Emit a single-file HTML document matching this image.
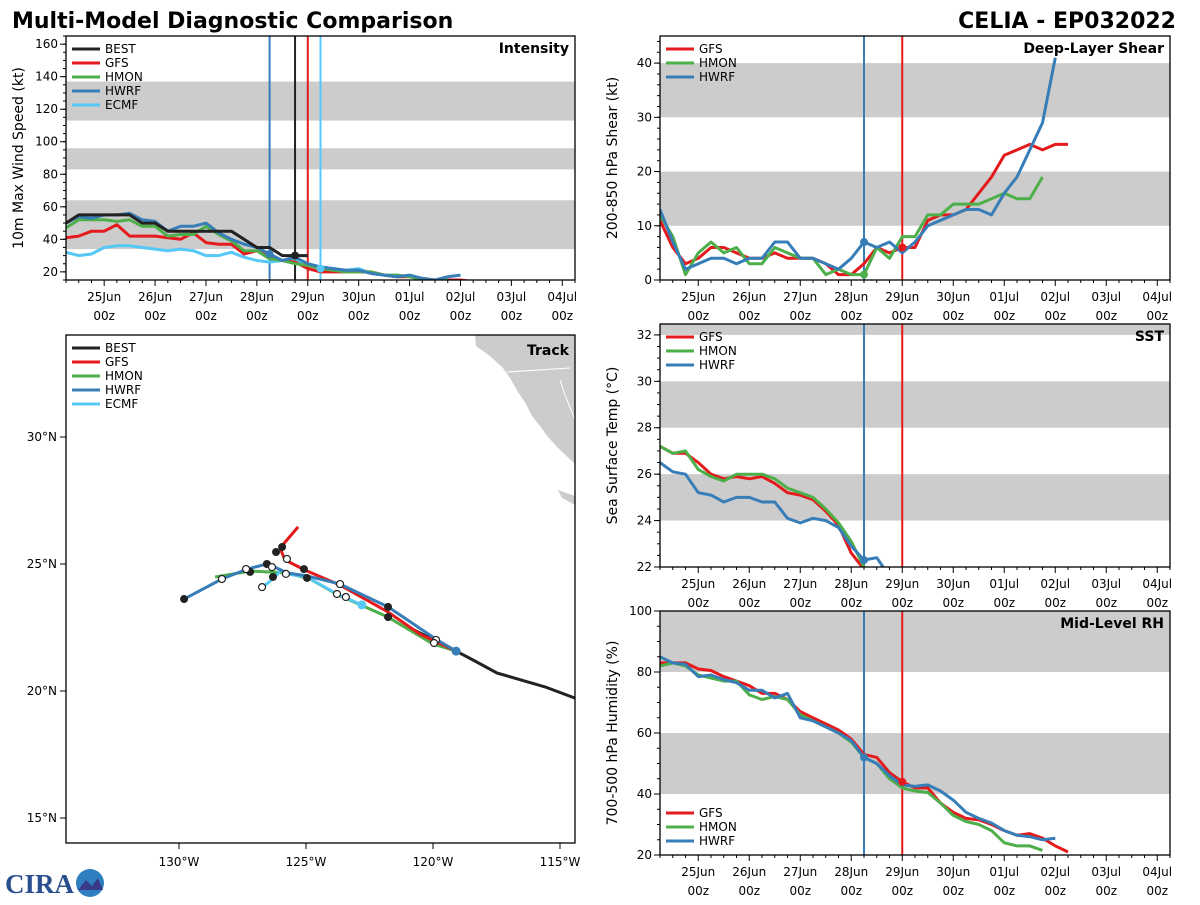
<!DOCTYPE html>
<html><head><meta charset="utf-8"><style>
body{margin:0;background:#fff;}
svg text{font-family:"DejaVu Sans","Liberation Sans",sans-serif;}
</style></head><body>
<svg id="root" width="1200" height="900" viewBox="0 0 1200 900" xmlns="http://www.w3.org/2000/svg">
<text x="12" y="28" font-size="22" font-weight="bold">Multi-Model Diagnostic Comparison</text>
<text x="1176" y="28" font-size="22" font-weight="bold" text-anchor="end">CELIA - EP032022</text>
<g>
<text x="5" y="893" font-size="27" font-weight="bold" fill="#2a4f8f" style="font-family:'Liberation Serif',serif">CIRA</text>
<circle cx="90" cy="883" r="14" fill="#2f7fc0"/>
<path d="M78 890 L86 880 L92 886 L98 878 L103 890 Z" fill="#3a3a8a"/>
</g>
<g id="plots"></g>
</svg>
<script>
// ---------- DATA ----------
const dayLabels=["25Jun","26Jun","27Jun","28Jun","29Jun","30Jun","01Jul","02Jul","03Jul","04Jul"];
const t0=-0.75; const dt=0.25;
const intBEST=[50,55,55,55,55,55,50,50,45,45,45,45,45,45,40,35,35,30,30,30];
const intGFS=[41,42,45,45,49,42,42,42,41,40,44,38,37,37,31,33,29,27,26,22,20,20,20,20,20,18,17,17,16,15,15,15,14];
const intHMON=[47,52,52,52,51,52,48,48,42,43,43,48,43,39,33,33,28,27,25,24,22,21,20,20,20,18,18,17,15,15,15];
const intHWRF=[50,54,53,55,55,56,52,51,45,48,48,50,44,40,37,35,31,27,29,25,23,22,21,21,19,18,17,18,16,15,17,18];
const intECMF=[32,30,31,35,36,36,35,34,33,34,33,30,30,32,29,27,26,27,27,25,23,22,21,22,19,18,18,17,15,15];
const intTicks=[20,40,60,80,100,120,140,160];
const shrGFS=[11,6,3,4,6,6,5,4,4,5,4,4,4,3,1,1,3,6,5,6,6,11,12,12,13,16,19,23,24,25,24,25,25];
const shrHMON=[12,8,1,5,7,5,6,3,3,6,5,4,4,1,2,1,1,6,4,8,8,12,12,14,14,14,15,16,15,15,19];
const shrHWRF=[13,7,2,3,4,4,3,4,4,7,7,4,4,3,2,4,7,6,7,5,7,10,11,12,13,13,12,16,19,24,29,41];
const shrTicks=[0,10,20,30,40];
const sstGFS=[27.2,26.9,26.9,26.5,26.0,25.8,25.9,25.8,25.9,25.6,25.2,25.1,24.9,24.4,23.8,22.6,21.9];
const sstHMON=[27.2,26.9,27.0,26.2,25.9,25.7,26.0,26.0,26.0,25.8,25.4,25.2,25.0,24.5,23.9,23.1,22.0];
const sstHWRF=[26.5,26.1,26.0,25.2,25.1,24.8,25.0,25.0,24.8,24.8,24.1,23.9,24.1,24.0,23.7,22.9,22.3,22.4,21.6];
const sstTicks=[22,24,26,28,30,32];
const rhGFS=[83,83,83,81,80.5,78.5,77,75.5,73,73,71,67,65,63,61,58,53,52,47,44,42,42,37,34,32,31.5,30,28,26.5,27,25.5,23,21];
const rhHMON=[82,83,82,79,78,77,77,72.5,71,72,71,66,64,62,60,57,52,50,45,42,41,40.5,37,33,31,30,28,24,23,23,21.5];
const rhHWRF=[85,83,82.5,78.5,79,77.5,76.5,74,74,71.5,73,65,64,62,60,57.5,52,50,46,43,42.5,43,41,38,34,32,30.5,28,26.5,26,25,25.5];
const rhTicks=[20,40,60,80,100];
const bestLon=[-114.41,-115.59,-117.48,-118.35,-119.09,-120.12,-120.91];
const bestLat=[19.72,20.16,20.71,21.18,21.57,22.09,22.48];
const gfsLon=[-119.09,-120.51,-121.77,-123.66,-125.04,-125.83,-126.02,-125.31];
const gfsLat=[21.57,22.24,23.11,24.17,24.76,25.16,25.63,26.46];
const hwrfLon=[-119.09,-119.84,-121.77,-122.76,-123.66,-124.96,-125.75,-126.14,-126.54,-127.32,-128.31,-129.80];
const hwrfLat=[21.57,22.01,23.31,23.78,24.21,24.53,24.65,24.84,25.0,24.80,24.41,23.62];
const hmonLon=[-119.09,-120.0,-121.77,-122.76,-123.74,-124.84,-125.75,-127.20,-128.58];
const hmonLat=[21.57,21.85,22.91,23.35,23.78,24.41,24.65,24.72,24.49];
const ecmfLon=[-122.80,-123.78,-124.96,-125.75,-126.02,-126.14,-126.50,-126.73];
const ecmfLat=[23.39,23.82,24.49,24.61,24.76,24.57,24.25,24.09];
const fillLon=[-129.80,-127.20,-126.54,-126.30,-126.18,-125.94,-125.08,-124.96,-121.77,-121.77];
const fillLat=[23.62,24.69,25.0,24.49,25.47,25.67,24.80,24.45,23.31,22.91];
const openLon=[-128.31,-127.36,-126.34,-125.79,-125.75,-126.73,-123.66,-123.78,-123.43,-119.88,-119.96];
const openLat=[24.41,24.80,24.88,24.61,25.20,24.09,24.21,23.82,23.70,22.01,21.89];
const lonTicks=[-130,-125,-120,-115];
const latTicks=[15,20,25,30];

// ---------- DRAWING ----------
const NS="http://www.w3.org/2000/svg";
const G=document.getElementById('plots');
function el(tag,attrs,parent,txt){const e=document.createElementNS(NS,tag);for(const k in attrs)e.setAttribute(k,attrs[k]);if(txt!==undefined)e.textContent=txt;(parent||G).appendChild(e);return e;}
const C={BEST:'#222222',GFS:'#e41a1c',HMON:'#4daf4a',HWRF:'#377eb8',ECMF:'#56c8f5'};

function panel(o){
  const g=el('g',{});
  
  
  const X=d=>o.x0+(d-(-0.75))/10*(o.x1-o.x0);
  const Y=v=>o.y1-(v-o.vmin)/(o.vmax-o.vmin)*(o.y1-o.y0);
  const cy=v=>Math.max(o.y0,Math.min(o.y1,Y(v)));
  const clip='clip-'+o.name;
  const cp=el('clipPath',{id:clip},g);el('rect',{x:o.x0,y:o.y0,width:o.x1-o.x0,height:o.y1-o.y0},cp);
  o.bands.forEach(b=>{const r=el('rect',{x:o.x0,y:cy(b[1]),width:o.x1-o.x0,height:cy(b[0])-cy(b[1]),fill:'#cccccc'},g);
    });
  o.vlines.forEach(v=>{const l=el('line',{x1:X(v[0]),x2:X(v[0]),y1:o.y0,y2:o.y1,stroke:C[v[1]],'stroke-width':2},g);
    });
  const sg=el('g',{'clip-path':'url(#'+clip+')'},g);
  o.series.forEach(s=>{const pts=s[1].map((v,i)=>X(t0+i*dt).toFixed(1)+','+Y(v).toFixed(1)).join(' ');
    const p=el('polyline',{points:pts,fill:'none',stroke:C[s[0]],'stroke-width':3,'stroke-linejoin':'round'},sg);
    });
  (o.dots||[]).forEach(d=>{const c=el('circle',{cx:X(d[0]),cy:Y(d[1]),r:4,fill:C[d[2]]},g);
    });
  el('rect',{x:o.x0,y:o.y0,width:o.x1-o.x0,height:o.y1-o.y0,fill:'none',stroke:'#000','stroke-width':1.3},g);
  for(let d=-0.75;d<=9.25;d+=0.25){const x=X(d);const major=Math.abs(d-Math.round(d))<1e-6;
    el('line',{x1:x,x2:x,y1:o.y1,y2:o.y1+(major?6:3),stroke:'#000','stroke-width':1},g);}
  dayLabels.forEach((lb,i)=>{const t=el('text',{x:X(i),y:o.y1+21,'font-size':12,'text-anchor':'middle'},g,lb);
    
    el('text',{x:X(i),y:o.y1+40,'font-size':12,'text-anchor':'middle'},g,'00z');});
  o.ticks.forEach(v=>{el('line',{x1:o.x0-6,x2:o.x0,y1:Y(v),y2:Y(v),stroke:'#000'},g);
    const t=el('text',{x:o.x0-8,y:Y(v)+4,'font-size':12,'text-anchor':'end'},g,String(v));
    });
  for(let v=o.ticks[0]-o.minor*4;v<=o.vmax;v+=o.minor){if(v>=o.vmin)el('line',{x1:o.x0-3,x2:o.x0,y1:Y(v),y2:Y(v),stroke:'#000'},g);}
  const yl=el('text',{x:0,y:0,'font-size':14,'text-anchor':'middle',transform:`translate(${o.x0-43},${(o.y0+o.y1)/2}) rotate(-90)`},g,o.ylabel);
  
  const tt=el('text',{x:o.x1-6,y:o.y0+17,'font-size':14,'font-weight':'bold','text-anchor':'end'},g,o.title);
  
  legend(g,o.x0,o.legY,o.legend);
}
function legend(g,x,y,names){
  const lg=el('g',{},g);
  names.forEach((n,i)=>{const e=el('g',{},lg);
    el('line',{x1:x+6,x2:x+34,y1:y+i*14,y2:y+i*14,stroke:C[n],'stroke-width':3},e);
    el('text',{x:x+39,y:y+i*14+4,'font-size':12},e,n);});
}
panel({name:'intensity',x0:66,x1:575,y0:36,y1:280,vmin:15,vmax:165,ticks:intTicks,minor:5,
  bands:[[34,64],[83,96],[113,137]],vlines:[[3.25,'HWRF'],[3.75,'BEST'],[4.0,'GFS'],[4.25,'ECMF']],
  series:[['ECMF',intECMF],['GFS',intGFS],['HMON',intHMON],['HWRF',intHWRF],['BEST',intBEST]],
  dots:[[3.25,31,'HWRF'],[3.75,30,'BEST'],[4.25,22,'ECMF']],
  ylabel:'10m Max Wind Speed (kt)',title:'Intensity',legY:49,legend:['BEST','GFS','HMON','HWRF','ECMF']});
panel({name:'shear',x0:660,x1:1170,y0:36,y1:280,vmin:0,vmax:45,ticks:shrTicks,minor:2,
  bands:[[10,20],[30,40]],vlines:[[3.25,'HWRF'],[4.0,'GFS']],
  series:[['GFS',shrGFS],['HMON',shrHMON],['HWRF',shrHWRF]],
  dots:[[3.25,7,'HWRF'],[3.25,1,'HMON'],[4.0,6,'GFS']],
  ylabel:'200-850 hPa Shear (kt)',title:'Deep-Layer Shear',legY:49,legend:['GFS','HMON','HWRF']});
panel({name:'sst',x0:660,x1:1170,y0:324,y1:567,vmin:22,vmax:32.47,ticks:sstTicks,minor:0.5,
  bands:[[24,26],[28,30],[32,33]],vlines:[[3.25,'HWRF'],[4.0,'GFS']],
  series:[['GFS',sstGFS],['HMON',sstHMON],['HWRF',sstHWRF]],
  dots:[[3.25,22.3,'HWRF']],
  ylabel:'Sea Surface Temp (°C)',title:'SST',legY:337,legend:['GFS','HMON','HWRF']});
panel({name:'rh',x0:660,x1:1170,y0:611,y1:855,vmin:20,vmax:100,ticks:rhTicks,minor:5,
  bands:[[40,60],[80,100]],vlines:[[3.25,'HWRF'],[4.0,'GFS']],
  series:[['GFS',rhGFS],['HMON',rhHMON],['HWRF',rhHWRF]],
  dots:[[3.25,52,'HWRF'],[4.0,44,'GFS']],
  ylabel:'700-500 hPa Humidity (%)',title:'Mid-Level RH',legY:813,legend:['GFS','HMON','HWRF']});

// ---------- TRACK MAP ----------
(function(){
  const x0=66,x1=575,y0=335,y1=843;
  const g=el('g',{});
  const LX=lon=>179+(lon+130)*25.4, LY=lat=>437-(lat-30)*25.4;
  const cp=el('clipPath',{id:'clip-track'},g);el('rect',{x:x0,y:y0,width:x1-x0,height:y1-y0},cp);
  const mg=el('g',{'clip-path':'url(#clip-track)'},g);
  const land=el('path',{d:'M475 335 L476 346 L490 356 L503 368 L510 378 L518 392 L526 404 L532 416 L540 426 L548 437 L558 448 L575 464 L575 335 Z M558 490 L575 496 L575 505 L562 498 Z',fill:'#cccccc'},mg);
  
  el('path',{d:'M507 372 L570 368 M560 380 L565 395 L575 420',stroke:'#fff','stroke-width':1,fill:'none'},mg);
  const tr=[['BEST',bestLon,bestLat],['HMON',hmonLon,hmonLat],['GFS',gfsLon,gfsLat],['ECMF',ecmfLon,ecmfLat],['HWRF',hwrfLon,hwrfLat]];
  tr.forEach(t=>{const pts=t[1].map((v,i)=>LX(v).toFixed(1)+','+LY(t[2][i]).toFixed(1)).join(' ');
    const p=el('polyline',{points:pts,fill:'none',stroke:C[t[0]],'stroke-width':3,'stroke-linejoin':'round'},mg);
    });
  fillLon.forEach((v,i)=>{const c=el('circle',{cx:LX(v),cy:LY(fillLat[i]),r:4,fill:'#222'},mg);
    });
  openLon.forEach((v,i)=>{const c=el('circle',{cx:LX(v),cy:LY(openLat[i]),r:3.5,fill:'#fff',stroke:'#222','stroke-width':1.2},mg);
    });
  el('circle',{cx:LX(-122.80),cy:LY(23.39),r:4.5,fill:C.ECMF},mg);
  el('circle',{cx:LX(-119.09),cy:LY(21.57),r:4.5,fill:C.HWRF},mg);
  el('rect',{x:x0,y:y0,width:x1-x0,height:y1-y0,fill:'none',stroke:'#000','stroke-width':1.3},g);
  lonTicks.forEach(v=>{el('line',{x1:LX(v),x2:LX(v),y1:y1,y2:y1+6,stroke:'#000'},g);
    const t=el('text',{x:LX(v),y:y1+23,'font-size':12,'text-anchor':'middle'},g,Math.abs(v)+'°W');
    });
  latTicks.forEach(v=>{el('line',{x1:x0-6,x2:x0,y1:LY(v),y2:LY(v),stroke:'#000'},g);
    const t=el('text',{x:x0-9,y:LY(v)+4,'font-size':12,'text-anchor':'end'},g,v+'°N');
    });
  const tt=el('text',{x:x1-6,y:y0+20,'font-size':14,'font-weight':'bold','text-anchor':'end'},g,'Track');
  
  legend(g,x0,348,['BEST','GFS','HMON','HWRF','ECMF']);
})();
</script>
</body></html>
